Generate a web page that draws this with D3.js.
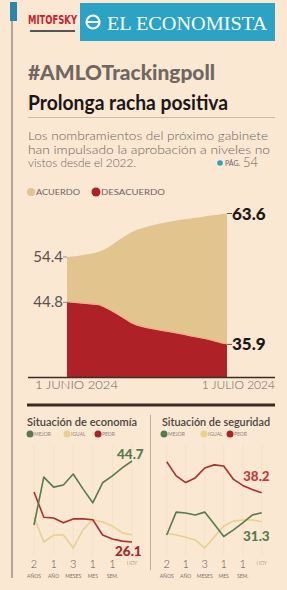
<!DOCTYPE html>
<html><head><meta charset="utf-8">
<script src="https://cdn.jsdelivr.net/npm/d3@7"></script>
<style>html,body{margin:0;padding:0;background:#fbe8d3;}svg{display:block;}</style>
</head><body>
<script>
// ---- data ----
const days = d3.range(31); // 1 junio .. 1 julio 2024
const acuerdo = [54.4,54.5,54.6,54.8,55.0,55.2,55.5,56.0,56.6,57.4,58.2,58.9,59.6,60.1,60.5,60.8,61.1,61.4,61.6,61.8,62.0,62.2,62.4,62.5,62.7,62.8,63.0,63.2,63.3,63.5,63.6];
const desacuerdo = [44.8,44.7,44.6,44.5,44.4,44.3,44.2,43.7,43.1,42.5,41.8,41.1,40.4,39.9,39.6,39.3,39.1,38.9,38.7,38.5,38.3,38.1,37.9,37.6,37.4,37.2,37.0,36.7,36.4,36.1,35.9];
const xLabels = ["1 JUNIO 2024","1 JULIO 2024"];

const ecoMejor = [30.0,41.0,38.7,39.2,41.7,38.3,35.1,39.7,41.3,43.1,44.7];
const ecoIgual = [31.8,26.1,27.7,27.7,24.7,28.9,31.2,30.7,29.8,28.2,27.7];
const ecoPeor  = [37.6,31.8,31.6,30.5,31.4,31.4,31.2,27.7,26.8,26.3,26.1];

const segMejor = [23.6,31.5,31.2,30.5,31.5,27.4,23.1,25.3,27.8,30.5,31.3];
const segIgual = [24.3,23.6,22.8,21.9,19.1,22.9,26.7,28.4,28.8,28.8,28.2];
const segPeor  = [48.9,44.0,41.7,43.3,46.7,47.8,47.4,42.9,40.7,39.3,38.2];

const tickIdx = [0,2,4,6,8,10];
const tickNum = ["2","1","3","1","1","HOY"];
const tickSub = ["AÑOS","AÑO","MESES","MES","SEM.",""];

const C = {bg:"#fbe8d3", tan:"#e2c48e", red:"#ae2227", green:"#557c4c", igual:"#e8d08f", peor:"#a9302e", text:"#6b635d", dark:"#1c1616", blue:"#2aa3c5"};
const F = "Lato, 'Open Sans', sans-serif";

const svg = d3.select("body").append("svg").attr("width",287).attr("height",590);
svg.append("rect").attr("width",287).attr("height",590).attr("fill",C.bg);

// frame line + blue tab
svg.append("line").attr("x1",12).attr("x2",12).attr("y1",18).attr("y2",578).attr("stroke","#6e625a").attr("stroke-width",1);
svg.append("rect").attr("x",10).attr("y",2).attr("width",7).attr("height",19).attr("fill","#2a86ad");

// header logos
svg.append("text").attr("x",28).attr("y",24).attr("font-family","'Liberation Sans Narrow','DejaVu Sans Condensed',sans-serif").attr("font-weight","bold").attr("font-size",12).attr("fill","#c8232c").attr("textLength",49).attr("lengthAdjust","spacingAndGlyphs").text("MITOFSKY");
svg.append("rect").attr("x",30).attr("y",30).attr("width",45).attr("height",2).attr("fill","#555");
svg.append("rect").attr("x",80).attr("y",3).attr("width",195).attr("height",38).attr("fill",C.blue);
svg.append("circle").attr("cx",93).attr("cy",22).attr("r",6.5).attr("fill","none").attr("stroke","#fff").attr("stroke-width",2.2);
svg.append("line").attr("x1",86).attr("x2",100).attr("y1",22).attr("y2",22).attr("stroke","#fff").attr("stroke-width",2);
svg.append("text").attr("x",107).attr("y",30).attr("font-family","'Liberation Serif','DejaVu Serif',serif").attr("font-size",19).attr("fill","#fff").attr("textLength",160).attr("lengthAdjust","spacingAndGlyphs").text("EL ECONOMISTA");

// titles
svg.append("text").attr("x",28).attr("y",80).attr("font-family",F).attr("font-weight",900).attr("font-size",20).attr("fill","#6f6761").attr("textLength",187).attr("lengthAdjust","spacingAndGlyphs").text("#AMLOTrackingpoll");
svg.append("text").attr("x",28).attr("y",110).attr("font-family",F).attr("font-weight",700).attr("font-size",21).attr("fill",C.dark).attr("textLength",200).attr("lengthAdjust","spacingAndGlyphs").text("Prolonga racha positiva");
svg.append("line").attr("x1",28).attr("x2",275).attr("y1",117.5).attr("y2",117.5).attr("stroke","#cdbcaa").attr("stroke-width",1);

const sub = ["Los nombramientos del próximo gabinete","han impulsado la aprobación a niveles no","vistos desde el 2022."];
const subW = [240,242,108];
sub.forEach((s,i)=>svg.append("text").attr("x",28).attr("y",140+i*13.5).attr("font-family",F).attr("font-weight",300).attr("font-size",12).attr("fill",C.text).attr("textLength",subW[i]).attr("lengthAdjust","spacingAndGlyphs").text(s));
svg.append("circle").attr("cx",220).attr("cy",163).attr("r",2.8).attr("fill",C.blue);
svg.append("text").attr("x",225).attr("y",166).attr("font-family",F).attr("font-size",7).attr("fill",C.text).text("PÁG.");
svg.append("text").attr("x",243).attr("y",167).attr("font-family",F).attr("font-weight",300).attr("font-size",13).attr("fill",C.text).text("54");

// legend main
svg.append("circle").attr("cx",31).attr("cy",192).attr("r",4).attr("fill",C.tan);
svg.append("text").attr("x",36).attr("y",195).attr("font-family",F).attr("font-size",7.5).attr("fill",C.text).attr("textLength",44).attr("lengthAdjust","spacingAndGlyphs").text("ACUERDO");
svg.append("circle").attr("cx",96).attr("cy",192).attr("r",4.5).attr("fill",C.red);
svg.append("text").attr("x",101).attr("y",195).attr("font-family",F).attr("font-size",7.5).attr("fill",C.text).attr("textLength",64).attr("lengthAdjust","spacingAndGlyphs").text("DESACUERDO");

// main chart
const x = d3.scaleLinear().domain([0,30]).range([67,227]);
const y = d3.scaleLinear().domain([29,63.6]).range([377,213.5]);
const area = (arr)=>d3.area().x((d,i)=>x(i)).y0(y(29)).y1((d)=>y(d))(arr);
svg.append("path").attr("d",area(acuerdo)).attr("fill",C.tan);
svg.append("path").attr("d",area(desacuerdo)).attr("fill",C.red);
svg.append("path").attr("d",d3.line().x((d,i)=>x(i)).y(d=>y(d)-0.8)(desacuerdo)).attr("fill","none").attr("stroke","#f2a983").attr("stroke-width",0.9);
svg.append("line").attr("x1",28).attr("x2",275).attr("y1",377.5).attr("y2",377.5).attr("stroke","#3b2d26").attr("stroke-width",1.3);

const startLbl = [acuerdo[0], desacuerdo[0]];
startLbl.forEach(v=>{
  svg.append("line").attr("x1",63).attr("x2",67).attr("y1",y(v)).attr("y2",y(v)).attr("stroke","#777").attr("stroke-width",0.8);
  svg.append("text").attr("x",63).attr("y",y(v)+5).attr("text-anchor","end").attr("font-family",F).attr("font-size",15).attr("fill","#57504b").text(v.toFixed(1));
});
const endLbl = [acuerdo[30], desacuerdo[30]];
endLbl.forEach(v=>{
  svg.append("line").attr("x1",227).attr("x2",232).attr("y1",y(v)).attr("y2",y(v)).attr("stroke","#333").attr("stroke-width",0.8);
  svg.append("text").attr("x",232).attr("y",y(v)+6).attr("font-family",F).attr("font-weight",900).attr("font-size",17).attr("fill",C.dark).text(v.toFixed(1));
});
svg.append("text").attr("x",35).attr("y",389).attr("font-family",F).attr("font-weight",300).attr("font-size",12).attr("fill",C.text).attr("textLength",83).attr("lengthAdjust","spacingAndGlyphs").text(xLabels[0]);
svg.append("text").attr("x",275).attr("y",389).attr("text-anchor","end").attr("font-family",F).attr("font-weight",300).attr("font-size",12).attr("fill",C.text).text(xLabels[1]);

// separator
svg.append("line").attr("x1",27).attr("x2",275).attr("y1",405).attr("y2",405).attr("stroke","#3a2a22").attr("stroke-width",3);
svg.append("line").attr("x1",150.5).attr("x2",150.5).attr("y1",415).attr("y2",570).attr("stroke","#a99d93").attr("stroke-width",0.8);

function small(opts){
  const g = svg.append("g");
  g.append("text").attr("x",opts.x0).attr("y",426).attr("font-family",F).attr("font-weight",600).attr("font-size",10.5).attr("fill","#4a433e").attr("textLength",opts.titleW).attr("lengthAdjust","spacingAndGlyphs").text(opts.title);
  const leg = [["MEJOR",C.green],["IGUAL",C.igual],["PEOR",C.red]];
  leg.forEach((l,i)=>{
    g.append("circle").attr("cx",opts.legX[i]).attr("cy",434).attr("r",3.5).attr("fill",l[1]);
    g.append("text").attr("x",opts.legX[i]+4).attr("y",436).attr("font-family",F).attr("font-size",5).attr("fill","#8a817a").text(l[0]);
  });
  const sx = d3.scaleLinear().domain([0,10]).range(opts.xr);
  const sy = d3.scaleLinear().domain(opts.yd).range(opts.yr);
  tickIdx.forEach(i=>g.append("line").attr("x1",sx(i)).attr("x2",sx(i)).attr("y1",445).attr("y2",555).attr("stroke","#f0dcc5").attr("stroke-width",0.6));
  const ln = d3.line().x((d,i)=>sx(i)).y(d=>sy(d));
  [[opts.igual,C.igual],[opts.peor,C.peor],[opts.mejor,C.green]].forEach(s=>{
    g.append("path").attr("d",ln(s[0])).attr("fill","none").attr("stroke",s[1]).attr("stroke-width",1.6).attr("stroke-linejoin","round");
  });
  opts.labels.forEach(l=>g.append("text").attr("x",l.x).attr("y",l.y).attr("font-family",F).attr("font-weight",900).attr("font-size",13.5).attr("fill",l.c).text(l.v.toFixed(1)));
  tickIdx.forEach((ti,k)=>{
    const isHoy = tickNum[k]==="HOY";
    g.append("text").attr("x",sx(ti)).attr("y",isHoy?565:568).attr("text-anchor","middle").attr("font-family",F).attr("font-size",isHoy?5:11).attr("font-weight",300).attr("fill","#5a534e").text(tickNum[k]);
    g.append("text").attr("x",sx(ti)).attr("y",578).attr("text-anchor","middle").attr("font-family",F).attr("font-size",5).attr("fill","#7a716a").text(tickSub[k]);
  });
}
small({x0:27,title:"Situación de economía",titleW:110,legX:[30,67,98],xr:[34,132],yd:[26.1,44.7],yr:[542,461],
  mejor:ecoMejor,igual:ecoIgual,peor:ecoPeor,
  labels:[{x:117,y:459,c:C.green,v:ecoMejor[10]},{x:115,y:556,c:"#a3262a",v:ecoPeor[10]}]});
small({x0:162,title:"Situación de seguridad",titleW:108,legX:[164,204,230],xr:[166.7,261.7],yd:[31.3,38.2],yr:[512.7,492.7],
  mejor:segMejor,igual:segIgual,peor:segPeor,
  labels:[{x:243,y:481,c:"#c13d3d",v:segPeor[10]},{x:243,y:541,c:C.green,v:segMejor[10]}]});
</script>
</body></html>
